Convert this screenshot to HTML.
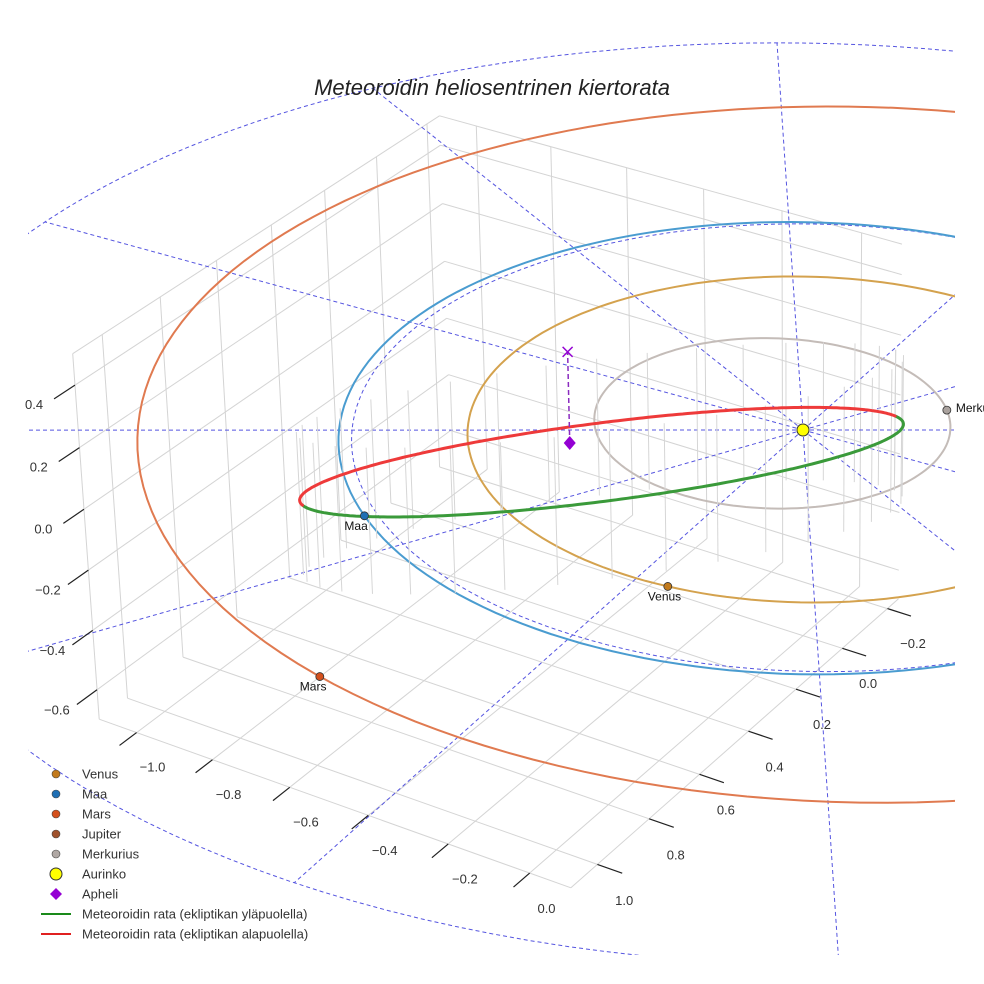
<!DOCTYPE html>
<html><head><meta charset="utf-8">
<style>
html,body{margin:0;padding:0;background:#fff;}
svg{display:block;font-family:"Liberation Sans",sans-serif;}
</style></head>
<body>
<svg id="chart" width="984" height="984" viewBox="0 0 984 984" xmlns="http://www.w3.org/2000/svg">
<defs><clipPath id="clip"><rect x="28" y="28" width="927" height="927"/></clipPath></defs>
<rect width="984" height="984" fill="#fff"/>
<g id="scene" clip-path="url(#clip)"></g>
<g id="axes"></g>
<text x="492" y="95" text-anchor="middle" font-size="22" font-style="italic" fill="#222">Meteoroidin heliosentrinen kiertorata</text>
<g id="legend"></g>
</svg>
<script>
// ---- data ----
const xTicks = [-1.0,-0.8,-0.6,-0.4,-0.2,0.0];
const yTicks = [-0.2,0.0,0.2,0.4,0.6,0.8,1.0];
const zTicks = [-0.6,-0.4,-0.2,0.0,0.2,0.4];
const planetNames = ["Merkurius","Venus","Maa","Mars"];
const planetA = [0.387,0.723,1.0,1.55];
const planetE = [0.2,0.0,0.0,0.09];
const planetPeri = [0,0,0,111.5];
const planetAngle = [-40,82,126,103];
const meteorA = 0.66;
const meteorE = 0.68;
const meteorInc = 26;
const meteorNode = -49.5;
const apheliPos = [-0.394,0.317,0.0];
const apheliMark = [-0.394,0.317,0.3];
const ringR = 2.0;
const spokeAngles = [-2.3,27.7,57.7,87.7,117.7,147.7,177.7,207.7,237.7,267.7,297.7,327.7];

// ---- projection ----
const BOX = {x0:-1.1,x1:0.1,y0:-0.25,y1:1.1,z0:-0.7,z1:0.5};
function P(x,y,z){
  const d = 0.424*x+0.684*y+0.3*z;
  const s = 10/(10-d);
  return [803+s*(400*x-235*y), 430+s*(120*x+190*y-300*z)];
}
const NS="http://www.w3.org/2000/svg";
function el(tag,attrs,parent){const e=document.createElementNS(NS,tag);for(const k in attrs)e.setAttribute(k,attrs[k]);parent.appendChild(e);return e;}
function pathOf(pts){return pts.map((p,i)=>(i?"L":"M")+p[0].toFixed(1)+" "+p[1].toFixed(1)).join(" ");}
function fmt(v){const s=Math.abs(v).toFixed(1);return (v< -1e-9?"\u2212":"")+s;}
const scene=document.getElementById('scene'), axes=document.getElementById('axes'), legend=document.getElementById('legend');

// ---- box grid ----
function gl(a,b,name){
  const l=el('path',{d:pathOf([P(...a),P(...b)]),stroke:"#d4d4d4","stroke-width":1,fill:"none"},scene);
  
  
}
const B=BOX;
yTicks.forEach(y=>gl([B.x0,y,B.z0],[B.x0,y,B.z1],'left-wall-grid'));
zTicks.forEach(z=>gl([B.x0,B.y0,z],[B.x0,B.y1,z],'left-wall-grid'));
xTicks.forEach(x=>gl([x,B.y0,B.z0],[x,B.y0,B.z1],'back-wall-grid'));
zTicks.forEach(z=>gl([B.x0,B.y0,z],[B.x1,B.y0,z],'back-wall-grid'));
xTicks.forEach(x=>gl([x,B.y0,B.z0],[x,B.y1,B.z0],'floor-grid'));
yTicks.forEach(y=>gl([B.x0,y,B.z0],[B.x1,y,B.z0],'floor-grid'));
[[[B.x0,B.y1,B.z0],[B.x0,B.y1,B.z1]],[[B.x0,B.y0,B.z1],[B.x0,B.y1,B.z1]],[[B.x0,B.y0,B.z1],[B.x1,B.y0,B.z1]],[[B.x0,B.y1,B.z0],[B.x1,B.y1,B.z0]],[[B.x1,B.y0,B.z0],[B.x1,B.y1,B.z0]]].forEach(e=>gl(e[0],e[1],'box-edge'));

// ---- ticks & labels ----
function tick(a,b,lab,off,name){
  const p=P(...a),q=P(...b);
  const t=el('line',{x1:p[0],y1:p[1],x2:q[0],y2:q[1],stroke:"#222","stroke-width":1.2},axes);
  
  
  const tx=el('text',{x:q[0]+off[0],y:q[1]+off[1],"font-size":13,fill:"#333","text-anchor":"middle"},axes);
  tx.textContent=lab;
  
  
}
xTicks.forEach(x=>tick([x,B.y1,B.z0],[x,B.y1+0.06,B.z0],fmt(x),[33,26],'x-tick'));
yTicks.forEach(y=>tick([B.x1,y,B.z0],[B.x1+0.06,y,B.z0],fmt(y),[2,32],'y-tick'));
zTicks.forEach(z=>tick([B.x0,B.y1,z],[B.x0,B.y1+0.07,z],fmt(z),[-20,10],'z-tick'));

// ---- dashed ecliptic ring & spokes ----
(function(){
  const pts=[];for(let k=0;k<=360;k+=2){const a=k*Math.PI/180;pts.push(P(ringR*Math.cos(a),ringR*Math.sin(a),0));}
  const r=el('path',{d:pathOf(pts),stroke:"#5555e0","stroke-width":1,"stroke-dasharray":"4 3",fill:"none"},scene);
  
  
  spokeAngles.forEach(deg=>{
    const a=deg*Math.PI/180;
    const s=el('path',{d:pathOf([P(0,0,0),P(ringR*Math.cos(a),ringR*Math.sin(a),0)]),stroke:"#5555e0","stroke-width":1,"stroke-dasharray":"4 3",fill:"none"},scene);
    
    
  });
  const e=[];for(let k=0;k<=360;k+=2){const a=k*Math.PI/180;e.push(P(0.015+0.99*Math.cos(a),-0.01+0.99*Math.sin(a),0));}
  const ed=el('path',{d:pathOf(e),stroke:"#5555e0","stroke-width":1,"stroke-dasharray":"4 3",fill:"none"},scene);
  
  
})();

// ---- planet orbits ----
const orbitColors=["#c4bcb8","#d4a24e","#4a9cd0","#e07a50"];
const planetColors=["#aaa29e","#c27a1c","#1f6fb4","#d4501c"];
function orbitPoint(i,E){
  const a=planetA[i],e=planetE[i],w=planetPeri[i]*Math.PI/180;
  const px=a*(Math.cos(E)-e),py=a*Math.sqrt(1-e*e)*Math.sin(E);
  return [px*Math.cos(w)-py*Math.sin(w),px*Math.sin(w)+py*Math.cos(w),0];
}
planetNames.forEach((nm,i)=>{
  const pts=[];
  for(let k=0;k<=360;k+=2){pts.push(P(...orbitPoint(i,k*Math.PI/180)));}
  const o=el('path',{d:pathOf(pts),stroke:orbitColors[i],"stroke-width":2,fill:"none"},scene);
  
  
});

// ---- meteoroid orbit (eccentric anomaly sampling) ----
const mPts=[];
(function(){
  const inc=meteorInc*Math.PI/180,Om=meteorNode*Math.PI/180;
  const Pv=[Math.cos(Om),Math.sin(Om),0],Qv=[-Math.sin(Om)*Math.cos(inc),Math.cos(Om)*Math.cos(inc),Math.sin(inc)];
  const bb=meteorA*Math.sqrt(1-meteorE*meteorE);
  for(let k=0;k<=360;k+=1){const E=k*Math.PI/180;
    const c=meteorA*(Math.cos(E)-meteorE),s=bb*Math.sin(E);
    mPts.push([c*Pv[0]+s*Qv[0],c*Pv[1]+s*Qv[1],c*Pv[2]+s*Qv[2]]);}
})();
mPts.forEach((q,k)=>{ if(k%10) return;
  const s=el('path',{d:pathOf([P(q[0],q[1],q[2]+0.22),P(q[0],q[1],q[2]-0.25)]),stroke:"#d6d6d6","stroke-width":1,fill:"none"},scene);
  
  
});
(function(){
  let seg=[],up=null;
  function flush(){ if(seg.length>1){
    const l=el('path',{d:pathOf(seg.map(q=>P(...q))),stroke:up?"#3a9a3a":"#ee3a3a","stroke-width":3,fill:"none","stroke-linecap":"round"},scene);
    
    } }
  mPts.forEach(q=>{const u=q[2]>=0; if(up===null)up=u; if(u!==up){seg.push(q);flush();seg=[q];up=u;} else seg.push(q);});
  flush();
})();

// ---- apheli ----
(function(){
  const a=P(...apheliPos),m=P(...apheliMark);
  const l=el('line',{x1:a[0],y1:a[1],x2:m[0],y2:m[1],stroke:"#8a2bc0","stroke-width":1.5,"stroke-dasharray":"5 3"},scene);
  
  
  const x=el('path',{d:`M${m[0]-5} ${m[1]-5}L${m[0]+5} ${m[1]+5}M${m[0]-5} ${m[1]+5}L${m[0]+5} ${m[1]-5}`,stroke:"#9400d3","stroke-width":1.5},scene);
  
  
  const d=el('path',{d:`M${a[0]} ${a[1]-7}L${a[0]+6} ${a[1]}L${a[0]} ${a[1]+7}L${a[0]-6} ${a[1]}Z`,fill:"#9400d3"},scene);
  
  
})();

// ---- planets ----
planetNames.forEach((nm,i)=>{
  const t=planetAngle[i]*Math.PI/180;
  const w=planetPeri[i]*Math.PI/180;
  const p=P(...orbitPoint(i,t-w));
  const c=el('circle',{cx:p[0],cy:p[1],r:4,fill:planetColors[i],stroke:"#333","stroke-width":0.8},scene);
  
  
  const tx=el('text',{x:p[0]+(i===0?9:-20),y:p[1]+(i===0?2:14),"font-size":12,fill:"#111"},i===0?axes:scene);
  tx.textContent=nm;
  
  
});
(function(){const p=P(0,0,0);
  const c=el('circle',{cx:p[0],cy:p[1],r:6,fill:"#ffff00",stroke:"#333","stroke-width":1},scene);
  
  
})();

// ---- legend ----
const legNames=["Venus","Maa","Mars","Jupiter","Merkurius","Aurinko","Apheli","Meteoroidin rata (ekliptikan yläpuolella)","Meteoroidin rata (ekliptikan alapuolella)"];
const legColors=["#c27a1c","#1f6fb4","#d4501c","#a0522d","#b0a8a4","#ffff00","#9400d3","#1a8a1a","#e02020"];
legNames.forEach((nm,i)=>{
  const y=774+i*20;
  let m;
  if(i<5) m=el('circle',{cx:56,cy:y,r:4,fill:legColors[i],stroke:"#444","stroke-width":0.6},legend);
  else if(i===5) m=el('circle',{cx:56,cy:y,r:6,fill:legColors[i],stroke:"#333","stroke-width":1},legend);
  else if(i===6) m=el('path',{d:`M56 ${y-6}L62 ${y}L56 ${y+6}L50 ${y}Z`,fill:legColors[i]},legend);
  else m=el('line',{x1:41,y1:y,x2:71,y2:y,stroke:legColors[i],"stroke-width":2},legend);
  
  
  const t=el('text',{x:82,y:y+4.5,"font-size":13,fill:"#333"},legend);
  t.textContent=nm;
  
  
});
</script>
</body></html>
